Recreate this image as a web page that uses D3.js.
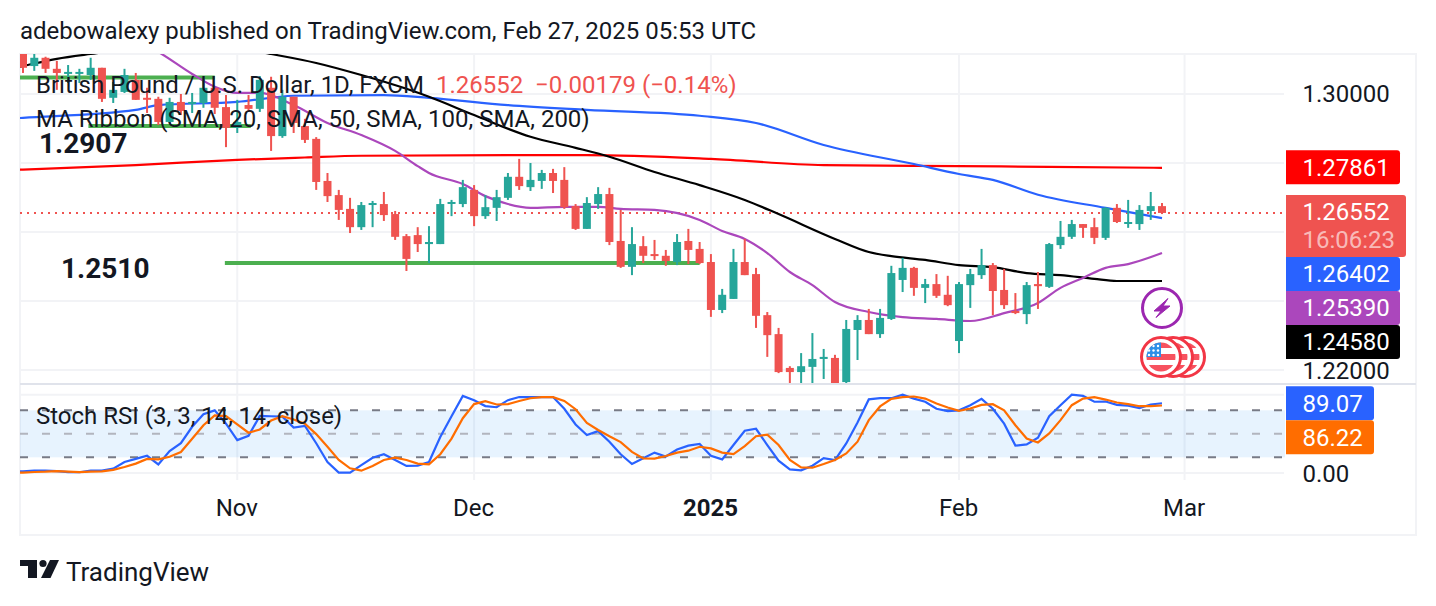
<!DOCTYPE html>
<html>
<head>
<meta charset="utf-8">
<title>GBP/USD daily</title>
<script src="https://cdn.jsdelivr.net/npm/d3@7/dist/d3.min.js"></script>
<style>
  html, body { margin: 0; padding: 0; background: #fff; }
  svg { display: block; }
  text { font-family: Roboto, sans-serif; }
</style>
</head>
<body>
<svg id="chart" width="1436" height="606"></svg>
<script>
// Daily candles, bar 0 to bar 101 (last bar: Feb 27, 2025)
const opens = [1.3116,1.3081,1.3105,1.3073,1.3061,1.3061,1.3055,1.3076,1.2989,1.3006,1.3041,1.2989,1.2986,1.2919,1.2977,1.2974,1.2974,1.3018,1.2962,1.2902,1.2968,1.2957,1.3018,1.2878,1.2992,1.2907,1.2870,1.2748,1.2707,1.2667,1.2614,1.2681,1.2681,1.2652,1.2588,1.2591,1.2565,1.2565,1.2684,1.2681,1.2722,1.2646,1.2670,1.2699,1.2760,1.2730,1.2748,1.2771,1.2751,1.2675,1.2609,1.2681,1.2710,1.2574,1.2499,1.2559,1.2536,1.2531,1.2513,1.2574,1.2551,1.2513,1.2374,1.2406,1.2513,1.2478,1.2359,1.2304,1.2206,1.2194,1.2209,1.2232,1.2235,1.2165,1.2316,1.2345,1.2304,1.2348,1.2461,1.2496,1.2438,1.2449,1.2418,1.2284,1.2446,1.2475,1.2504,1.2432,1.2371,1.2362,1.2449,1.2441,1.2562,1.2586,1.2623,1.2614,1.2583,1.2670,1.2626,1.2623,1.2661,1.2675];
const highs = [1.3120,1.3116,1.3108,1.3096,1.3084,1.3073,1.3105,1.3076,1.3035,1.3073,1.3061,1.3018,1.2992,1.2989,1.3000,1.3003,1.3050,1.3018,1.2997,1.2983,1.2997,1.3052,1.3050,1.3012,1.2992,1.2928,1.2875,1.2771,1.2722,1.2699,1.2687,1.2690,1.2716,1.2661,1.2594,1.2614,1.2617,1.2696,1.2693,1.2751,1.2736,1.2707,1.2722,1.2771,1.2812,1.2800,1.2780,1.2783,1.2788,1.2681,1.2701,1.2730,1.2728,1.2664,1.2614,1.2588,1.2577,1.2548,1.2594,1.2609,1.2571,1.2536,1.2435,1.2551,1.2580,1.2496,1.2368,1.2322,1.2211,1.2249,1.2307,1.2261,1.2244,1.2345,1.2359,1.2377,1.2377,1.2502,1.2525,1.2499,1.2464,1.2478,1.2473,1.2455,1.2493,1.2551,1.2510,1.2493,1.2423,1.2455,1.2484,1.2568,1.2632,1.2635,1.2623,1.2641,1.2672,1.2681,1.2693,1.2678,1.2716,1.2684];
const lows = [1.3061,1.3067,1.3061,1.3012,1.3032,1.3032,1.3041,1.2977,1.2974,1.3003,1.2983,1.2945,1.2910,1.2916,1.2939,1.2945,1.2960,1.2942,1.2846,1.2887,1.2948,1.2948,1.2835,1.2873,1.2887,1.2858,1.2722,1.2687,1.2635,1.2597,1.2606,1.2614,1.2632,1.2577,1.2487,1.2542,1.2510,1.2565,1.2646,1.2672,1.2617,1.2638,1.2632,1.2693,1.2722,1.2719,1.2725,1.2713,1.2667,1.2606,1.2609,1.2667,1.2562,1.2496,1.2475,1.2510,1.2519,1.2502,1.2504,1.2507,1.2507,1.2354,1.2365,1.2406,1.2475,1.2322,1.2238,1.2191,1.2162,1.2162,1.2162,1.2174,1.2159,1.2162,1.2229,1.2304,1.2293,1.2345,1.2426,1.2415,1.2394,1.2409,1.2385,1.2249,1.2380,1.2464,1.2359,1.2377,1.2362,1.2333,1.2377,1.2438,1.2551,1.2580,1.2583,1.2565,1.2577,1.2626,1.2612,1.2606,1.2635,1.2652];
const closes = [1.3076,1.3105,1.3073,1.3061,1.3064,1.3064,1.3076,1.2986,1.3012,1.3055,1.2983,1.2986,1.2919,1.2977,1.2951,1.2977,1.3018,1.2960,1.2902,1.2919,1.2957,1.3041,1.2878,1.2992,1.2916,1.2867,1.2745,1.2704,1.2664,1.2614,1.2678,1.2684,1.2649,1.2586,1.2522,1.2565,1.2571,1.2681,1.2687,1.2730,1.2646,1.2672,1.2701,1.2760,1.2733,1.2751,1.2771,1.2748,1.2672,1.2609,1.2684,1.2710,1.2571,1.2499,1.2565,1.2531,1.2531,1.2516,1.2571,1.2548,1.2510,1.2374,1.2418,1.2513,1.2475,1.2357,1.2301,1.2194,1.2194,1.2211,1.2232,1.2238,1.2162,1.2319,1.2345,1.2304,1.2351,1.2481,1.2496,1.2438,1.2449,1.2415,1.2388,1.2449,1.2478,1.2504,1.2429,1.2388,1.2365,1.2446,1.2443,1.2565,1.2586,1.2623,1.2612,1.2583,1.2670,1.2629,1.2629,1.2664,1.2675,1.26552];

// Moving averages, read at the listed bars
const sma20Bars = [10,12,15,17,19,21,24,27,30,33,35,36,39,41,43,45,48,51,53,56,60,62,64,66,68,70,72,75,78,81,84,87,90,92,94,96,98,101];
const sma20Values = [1.3157,1.3122,1.3058,1.3021,1.3003,1.3003,1.2968,1.2916,1.2881,1.2835,1.2791,1.2771,1.2739,1.2704,1.2681,1.2670,1.2673,1.2673,1.2667,1.2664,1.2635,1.2603,1.2580,1.2539,1.2484,1.2446,1.2397,1.2368,1.2353,1.2348,1.2342,1.2365,1.2394,1.2438,1.2467,1.2496,1.2507,1.2539];
const sma50Bars = [-1,0,3,6,9,18,21,22,26,30,34,36,40,45,49,52,56,60,64,67,72,75,77,80,83,86,89,92,95,97,101];
const sma50Values = [1.3074,1.3081,1.3102,1.3116,1.3128,1.3136,1.3122,1.3116,1.3090,1.3055,1.3015,1.2992,1.2939,1.2876,1.2844,1.2818,1.2774,1.2736,1.2693,1.2652,1.2580,1.2542,1.2530,1.2519,1.2504,1.2498,1.2481,1.2475,1.2464,1.2458,1.2458];
const sma100Bars = [-1,0,10,12,19,24,32,36,43,50,60,65,71,79,83,86,90,96,101];
const sma100Values = [1.2929,1.2931,1.2954,1.2968,1.2977,1.2995,1.2997,1.2989,1.2968,1.2954,1.2937,1.2916,1.2852,1.2797,1.2768,1.2751,1.2708,1.2670,1.2640];
const sma200Bars = [-1,0,10,19,25,30,43,50,61,71,83,91,101];
const sma200Values = [1.2780,1.2781,1.2794,1.2809,1.2816,1.2821,1.2823,1.2823,1.2812,1.2794,1.2791,1.2789,1.2786];

// Stochastic RSI, one reading per bar, starting one bar before the first candle
const stochK = [2,2,3,3,2.5,1,1,3,3,5.5,14,18,22,11,28,38,59,75,80,63,42,47.5,73,72.5,72,58,60,38,14,0.5,0.5,10,19.5,24,16.5,9,9.5,14,46,72.5,98.5,93,85.5,84,93,97,97,97,97,82,62,48.5,53.5,40,24,11.5,18.7,26,21,30,35,37,22,17.4,35.7,54,56.5,35.7,15.7,4.7,3.4,9.3,19,16.6,37.8,64.5,94,95.5,95.5,100,95,91,82,79,80,86.6,94.7,82,63,35,36.5,45,72.6,86.6,100,98.5,91,91.3,87,86,83,87.5,89.07];
const stochD = [0.4,0.5,1.3,1.7,2.5,1.7,1,1.7,2,4,7.6,12,18,17.4,20.8,26.8,43.7,61,73.5,72.6,62,51.4,55.6,67,72.6,68.4,63,49.7,33.5,16.6,6,3,9,16.6,19.5,16.6,12,11,24,44,70,88,91.7,87.5,88,92,95.5,97,96.8,92,81.5,64,55,47,39.5,27,18.7,18.3,21.7,26,28.5,33.5,31.4,26,24,34.4,47,49,35.7,16.6,7.2,6.8,11.5,16.6,25,40,67.5,85,94.7,97,97.7,95,88.7,83.7,79.4,82.4,87,87.9,80,61,44,39,50.5,67.5,86.6,95,96.8,93.8,90,88,85.3,85.3,86.22];

// Axis contents
const timeTickBars = [19,40,61,83,103];
const timeTickLabels = ["Nov","Dec","2025","Feb","Mar"];
const priceGridTicks = [1.30,1.28,1.26,1.24,1.22];
const priceAxisTicks = [1.30,1.22];
const stochGridTicks = [0,100];
const stochBandLevels = [80,50,20];

// Horizontal support levels: [price, first bar, last bar]
const supportLevels = [[1.3048,-0.3,17],[1.2907,5.8,20.2],[1.2510,17.9,60]];
const supportNotes = [["1.2907",1.2907],["1.2510",1.2510]];

const RED = "#ef5350", GREEN = "#26a69a", INK = "#131722";
const GRID = "#f2f3f6";

const svg = d3.select("#chart");
const plot = { left: 20, right: 1284, frameRight: 1416, top: 54, mid: 384, stochBottom: 480, bottom: 535 };

const x = d3.scaleLinear().domain([0, 101]).range([23, 1162]);
const y = d3.scaleLinear().domain([1.26, 1.22]).range([232, 370]);
const yStoch = d3.scaleLinear().domain([0, 100]).range([473, 394.7]);

// Gridlines and frame sit underneath everything
const back = svg.append("g");
back.append("rect")
  .attr("x", plot.left).attr("y", plot.top)
  .attr("width", plot.frameRight - plot.left).attr("height", plot.bottom - plot.top)
  .attr("fill", "none").attr("stroke", GRID).attr("stroke-width", 2);
back.selectAll(".pg").data(priceGridTicks).join("line")
  .attr("x1", plot.left).attr("x2", plot.right)
  .attr("y1", d => y(d)).attr("y2", d => y(d))
  .attr("stroke", GRID).attr("stroke-width", 2);
back.selectAll(".sg").data(stochGridTicks).join("line")
  .attr("x1", plot.left).attr("x2", plot.right)
  .attr("y1", d => yStoch(d)).attr("y2", d => yStoch(d))
  .attr("stroke", GRID).attr("stroke-width", 2);
back.selectAll(".vg").data(timeTickBars).join("line")
  .attr("x1", d => x(d)).attr("x2", d => x(d))
  .attr("y1", plot.top).attr("y2", plot.stochBottom)
  .attr("stroke", GRID).attr("stroke-width", 2);

// Stochastic band
back.append("rect")
  .attr("x", plot.left).attr("width", plot.right - plot.left + 1)
  .attr("y", yStoch(stochBandLevels[0])).attr("height", yStoch(stochBandLevels[2]) - yStoch(stochBandLevels[0]))
  .attr("fill", "#2196f3").attr("fill-opacity", 0.11);
back.selectAll(".band").data(stochBandLevels).join("line")
  .attr("x1", plot.left).attr("x2", plot.right)
  .attr("y1", d => yStoch(d)).attr("y2", d => yStoch(d))
  .attr("stroke", d => d === 50 ? "#b2b5be" : "#787b86")
  .attr("stroke-width", 2).attr("stroke-dasharray", "8 14");

// Pane clips
const defs = svg.append("defs");
defs.append("clipPath").attr("id", "pricePane")
  .append("rect").attr("x", plot.left).attr("y", plot.top)
  .attr("width", plot.right - plot.left).attr("height", plot.mid - plot.top);
defs.append("clipPath").attr("id", "stochPane")
  .append("rect").attr("x", plot.left).attr("y", plot.mid)
  .attr("width", plot.right - plot.left).attr("height", plot.stochBottom - plot.mid);
const pricePane = svg.append("g").attr("clip-path", "url(#pricePane)");
const stochPane = svg.append("g").attr("clip-path", "url(#stochPane)");

// Last-price dotted line
pricePane.append("line")
  .attr("x1", plot.left).attr("x2", plot.right)
  .attr("y1", y(closes[closes.length - 1])).attr("y2", y(closes[closes.length - 1]))
  .attr("stroke", RED).attr("stroke-width", 2).attr("stroke-dasharray", "2 5");

// Support levels
pricePane.selectAll(".support").data(supportLevels).join("line")
  .attr("x1", d => x(d[1])).attr("x2", d => x(d[2]))
  .attr("y1", d => y(d[0])).attr("y2", d => y(d[0]))
  .attr("stroke", "#4caf50").attr("stroke-width", 4);

// Moving averages
const maLine = d3.line().x(d => x(d[0])).y(d => y(d[1])).curve(d3.curveMonotoneX);
const movingAverages = [
  { bars: sma200Bars, values: sma200Values, color: "#ff0000" },
  { bars: sma100Bars, values: sma100Values, color: "#2962ff" },
  { bars: sma50Bars, values: sma50Values, color: "#000000" },
  { bars: sma20Bars, values: sma20Values, color: "#ab47bc" }
];
pricePane.selectAll(".ma").data(movingAverages).join("path")
  .attr("fill", "none").attr("stroke-width", 2.2)
  .attr("stroke", d => d.color)
  .attr("d", d => maLine(d.bars.map((b, i) => [b, d.values[i]])));

// Candles
const candles = pricePane.selectAll(".candle").data(d3.range(opens.length)).join("g")
  .attr("fill", i => closes[i] >= opens[i] ? GREEN : RED);
candles.append("rect")
  .attr("x", i => x(i) - 1).attr("width", 2)
  .attr("y", i => y(highs[i]))
  .attr("height", i => y(lows[i]) - y(highs[i]));
candles.append("rect")
  .attr("x", i => x(i) - 4).attr("width", 8)
  .attr("y", i => y(Math.max(opens[i], closes[i])))
  .attr("height", i => Math.max(2, Math.abs(y(opens[i]) - y(closes[i]))));

// Stochastic lines
const stochLine = d3.line().x((d, i) => x(i - 1)).y(d => yStoch(d));
[[stochK, "#2962ff"], [stochD, "#ff6d00"]].forEach(([series, color]) => {
  stochPane.append("path").attr("d", stochLine(series))
    .attr("fill", "none").attr("stroke", color).attr("stroke-width", 2.2);
});

// Pane separator
svg.append("line")
  .attr("x1", plot.left).attr("x2", plot.frameRight)
  .attr("y1", plot.mid).attr("y2", plot.mid)
  .attr("stroke", "#e0e3eb").attr("stroke-width", 2);

// Time axis
const timeAxis = d3.axisBottom(x).tickValues(timeTickBars)
  .tickFormat((d, i) => timeTickLabels[i]).tickSize(0).tickPadding(0);
const timeG = svg.append("g").attr("transform", "translate(-1,499)").call(timeAxis);
timeG.select(".domain").remove();
timeG.selectAll("text")
  .attr("font-family", "Roboto, sans-serif").attr("font-size", 24).attr("fill", INK)
  .attr("font-weight", (d, i) => timeTickLabels[i] === "2025" ? 700 : 400);

// Price axis
const priceAxis = d3.axisRight(y).tickValues(priceAxisTicks)
  .tickFormat(d3.format(".5f")).tickSize(0).tickPadding(0);
const priceG = svg.append("g").attr("transform", "translate(1302.5,0)").call(priceAxis);
priceG.select(".domain").remove();
priceG.selectAll("text").attr("font-family", "Roboto, sans-serif").attr("font-size", 24).attr("fill", INK);
priceG.selectAll("text").filter(d => d === 1.22).attr("dy", "0.36em");

const stochAxis = d3.axisRight(yStoch).tickValues([0])
  .tickFormat(d3.format(".2f")).tickSize(0).tickPadding(0);
const stochG = svg.append("g").attr("transform", "translate(1302.5,1)").call(stochAxis);
stochG.select(".domain").remove();
stochG.selectAll("text").attr("font-family", "Roboto, sans-serif").attr("font-size", 24).attr("fill", INK);

// Value tags on the price scale; a tag that would overlap slides below the previous one
function tagPath(x0, x1, y0, y1, r) {
  const p = d3.path();
  p.moveTo(x0, y0);
  p.lineTo(x1 - r, y0);
  p.arcTo(x1, y0, x1, y0 + r, r);
  p.lineTo(x1, y1 - r);
  p.arcTo(x1, y1, x1 - r, y1, r);
  p.lineTo(x0, y1);
  p.closePath();
  return p.toString();
}
function drawTag(top, height, width, color, lines) {
  svg.append("path").attr("d", tagPath(1286, 1286 + width, top, top + height, 3)).attr("fill", color);
  lines.forEach((line, i) => {
    svg.append("text").attr("x", 1302.5).attr("y", top + 17 + i * 28 + 8.5)
      .attr("font-size", 24).attr("fill", "#fff").attr("fill-opacity", i ? 0.62 : 1).text(line);
  });
}
const fmt5 = d3.format(".5f"), fmt2 = d3.format(".2f");
const last = closes[closes.length - 1];
drawTag(y(1.27861) - 17.5, 34, 114, "#ff0000", [fmt5(1.27861)]);
let tagFloor = y(last) - 18;
drawTag(tagFloor, 62, 120, RED, [fmt5(last), "16:06:23"]);
tagFloor += 62;
[[1.26402, "#2962ff"], [1.25390, "#ab47bc"], [1.24580, "#000000"]].forEach(([v, c]) => {
  const top = Math.max(y(v) - 17, tagFloor);
  drawTag(top, 34, 114, c, [fmt5(v)]);
  tagFloor = top + 34;
});
let stochFloor = 0;
[[stochK[stochK.length - 1], "#2962ff"], [stochD[stochD.length - 1], "#ff6d00"]].forEach(([v, c]) => {
  const top = Math.max(yStoch(v) - 17, stochFloor);
  drawTag(top, 34, 88, c, [fmt2(v)]);
  stochFloor = top + 34;
});

// Alert and economic-event badges beside the last bar
const badges = svg.append("g");
const bolt = badges.append("g").attr("transform", "translate(1162,308)");
bolt.append("circle").attr("r", 19.5).attr("fill", "#fff").attr("stroke", "#9c27b0").attr("stroke-width", 3);
bolt.append("path").attr("d", "M6,-9.5 L-8,3 L-1,3 L-6,9.5 L8,-2 L1,-2 Z")
  .attr("fill", "#9c27b0").attr("stroke", "#9c27b0").attr("stroke-width", 1).attr("stroke-linejoin", "round");

defs.append("clipPath").attr("id", "flagDisc").append("circle").attr("r", 14.5);
[1185, 1173, 1161].forEach(cx => {
  const g = badges.append("g").attr("transform", `translate(${cx},357)`);
  g.append("circle").attr("r", 19.5).attr("fill", "#fff").attr("stroke", "#f23645").attr("stroke-width", 3);
  const flag = g.append("g").attr("clip-path", "url(#flagDisc)");
  flag.append("rect").attr("x", -15).attr("y", -15).attr("width", 30).attr("height", 30).attr("fill", "#fff");
  [-15, -3, 8].forEach(top => {
    flag.append("rect").attr("x", -15).attr("y", top).attr("width", 30)
      .attr("height", top === 8 ? 8 : 6).attr("fill", "#f7525f");
  });
  flag.append("rect").attr("x", -15).attr("y", -15).attr("width", 15).attr("height", 15).attr("fill", "#2e8fe8");
  d3.range(3).forEach(r => d3.range(3).forEach(c => {
    flag.append("circle").attr("cx", -12 + c * 4.5).attr("cy", -11 + r * 4.5).attr("r", 1.2).attr("fill", "#fff");
  }));
});

// Support annotations
supportNotes.forEach(([label, value], i) => {
  svg.append("text")
    .attr("x", i === 0 ? 39 : 61).attr("y", i === 0 ? 153 : 278)
    .attr("font-size", 28).attr("font-weight", 700).attr("fill", INK).text(label);
});

// Titles and legends
const addText = (tx, ty, size, color, str) =>
  svg.append("text").attr("x", tx).attr("y", ty).attr("font-size", size).attr("fill", color).text(str);
addText(20, 39, 24, INK, "adebowalexy published on TradingView.com, Feb 27, 2025 05:53 UTC");
addText(36, 93, 24, INK, "British Pound / U.S. Dollar, 1D, FXCM");
addText(436, 93, 24, RED, "1.26552");
addText(535, 93, 24, RED, "\u22120.00179 (\u22120.14%)");
addText(36, 127, 24, INK, "MA Ribbon (SMA, 20, SMA, 50, SMA, 100, SMA, 200)");
addText(36, 424, 24, INK, "Stoch RSI (3, 3, 14, 14, close)");

// Footer mark
const mark = svg.append("g").attr("fill", "#131722");
mark.append("path").attr("d", "M20,560 H37 V578 H28 V566 H20 Z");
mark.append("circle").attr("cx", 43).attr("cy", 563.5).attr("r", 3.6);
mark.append("path").attr("d", "M50,560 H59 L50.5,578 H41 Z");
addText(66, 581, 26, INK, "TradingView");
</script>
</body>
</html>
